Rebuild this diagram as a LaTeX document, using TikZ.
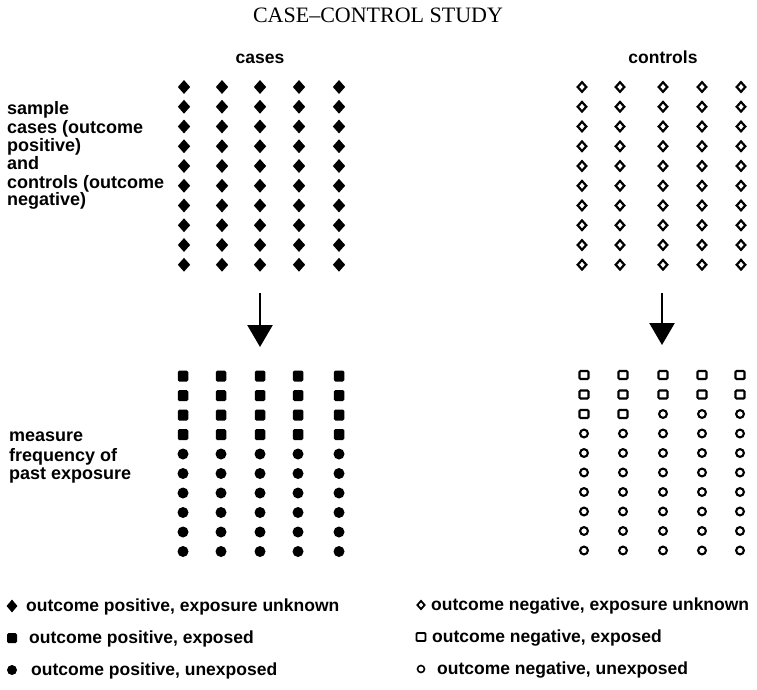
\documentclass[tikz,border=0pt]{standalone}
\usepackage{fontspec}
\setmainfont{Liberation Serif}
\setsansfont{Liberation Sans}
\usetikzlibrary{shapes.geometric,arrows.meta}
\begin{document}
\begin{tikzpicture}[x=1pt,y=-1pt,
  lbl/.style={font=\sffamily\bfseries\fontsize{18}{19}\selectfont, inner sep=0pt, anchor=base west},
  leg/.style={font=\sffamily\bfseries\fontsize{17.5}{19}\selectfont, inner sep=0pt, anchor=base west},
  hdr/.style={font=\sffamily\bfseries\fontsize{17.5}{19}\selectfont, inner sep=0pt, anchor=base},
  fdia/.style={shape=diamond, fill=black, inner sep=0pt, minimum width=12.5pt, minimum height=14pt},
  odia/.style={shape=diamond, draw=black, line width=2.2pt, inner sep=0pt, minimum width=9.5pt, minimum height=10.5pt},
  fsq/.style={shape=rectangle, fill=black, inner sep=0pt, minimum width=10.5pt, minimum height=11pt, rounded corners=1.5pt},
  osq/.style={shape=rectangle, draw=black, line width=2.1pt, inner sep=0pt, minimum width=9pt, minimum height=8pt, rounded corners=1pt},
  fcir/.style={shape=circle, fill=black, inner sep=0pt, minimum size=11pt},
  ocir/.style={shape=circle, draw=black, line width=2.1pt, inner sep=0pt, minimum size=7.8pt},
  bigarrow/.style={line width=2.5pt, -{Triangle[width=25pt,length=22pt]}}
]
\useasboundingbox (0,0) rectangle (757,690);

% title and headers
\node[font=\fontsize{22}{24}\selectfont, inner sep=0pt, anchor=base] (title) at (378,23) {CASE--CONTROL STUDY};
\node[hdr] (hcases) at (260,64) {cases};
\node[hdr] (hcontrols) at (663,64) {controls};

% left labels
\node[lbl] (l1) at (7,114) {sample};
\node[lbl] (l2) at (7,133) {cases (outcome};
\node[lbl] (l3) at (7,151) {positive)};
\node[lbl] (l4) at (7,169) {and};
\node[lbl] (l5) at (7,188) {controls (outcome};
\node[lbl] (l6) at (7,205) {negative)};
\node[lbl] (m1) at (9,441) {measure};
\node[lbl] (m2) at (9,461) {frequency of};
\node[lbl] (m3) at (9,479) {past exposure};

% upper grids
\foreach \c [count=\ci] in {184,222,260,299,339} {
  \foreach \r in {0,...,9} {
    \node[fdia] (ua-\ci-\r) at (\c, 87+\r*19.75) {};
  }
}
\foreach \c [count=\ci] in {582,620,663,702,741} {
  \foreach \r in {0,...,9} {
    \node[odia] (ub-\ci-\r) at (\c, 87+\r*19.75) {};
  }
}

% lower grids
\foreach \c [count=\ci] in {183,221,260,298,339} {
  \foreach \r in {0,...,9} {
    \ifnum\r<4
      \node[fsq] (la-\ci-\r) at (\c, 376+\r*19.5) {};
    \else
      \node[fcir] (la-\ci-\r) at (\c, 376+\r*19.5) {};
    \fi
  }
}
\foreach \c [count=\ci] in {584,623,663,702,740} {
  \foreach \r in {0,...,9} {
    \pgfmathtruncatemacro\issq{or(\r<2, and(\r==2,\ci<3))}
    \ifnum\issq=1
      \node[osq] (lb-\ci-\r) at (\c, 375+\r*19.5) {};
    \else
      \node[ocir] (lb-\ci-\r) at (\c, 375+\r*19.5) {};
    \fi
  }
}

% arrows
\coordinate (a1s) at (260,293);
\coordinate (a1e) at (260,347);
\coordinate (a2s) at (662,293);
\coordinate (a2e) at (662,345);
\draw[bigarrow] (a1s) -- (a1e);
\draw[bigarrow] (a2s) -- (a2e);

% legend
\node[fdia, minimum width=11pt, minimum height=13pt] (k1) at (12,606) {};
\node[leg] (k1t) at (26,611) {outcome positive, exposure unknown};
\node[fsq, minimum width=10pt, minimum height=10pt] (k2) at (12,638) {};
\node[leg] (k2t) at (29,643) {outcome positive, exposed};
\node[fcir, minimum size=10pt] (k3) at (12,670) {};
\node[leg] (k3t) at (31,675) {outcome positive, unexposed};

\node[odia, line width=1.8pt, minimum width=8pt, minimum height=9pt] (k4) at (421,605) {};
\node[leg] (k4t) at (431,610) {outcome negative, exposure unknown};
\node[osq, line width=1.8pt] (k5) at (421,637) {};
\node[leg] (k5t) at (432,642) {outcome negative, exposed};
\node[ocir, line width=1.6pt, minimum size=7pt] (k6) at (421,669) {};
\node[leg] (k6t) at (437,674) {outcome negative, unexposed};
\end{tikzpicture}
\end{document}
